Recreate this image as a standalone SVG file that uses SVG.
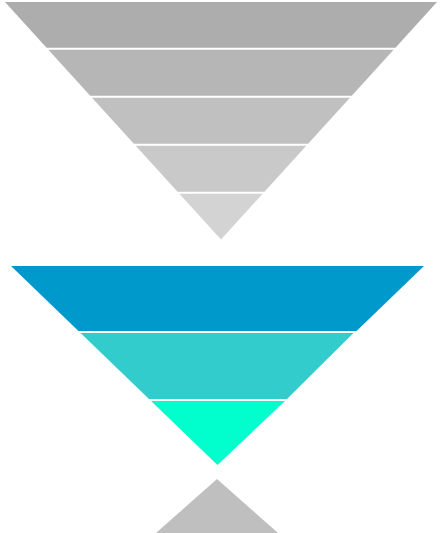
<svg xmlns="http://www.w3.org/2000/svg" width="443" height="533" viewBox="0 0 443 533">
<style>
.band{stroke:none}
</style>
<rect width="443" height="533" fill="#ffffff"/>
<g id="funnel-top">
<polygon id="t1" class="band" fill="#adadad" points="5,2 437,2 395.44,47.7 46.56,47.7"/>
<polygon id="t2" class="band" fill="#b6b6b6" points="48.38,49.7 393.62,49.7 351.78,95.7 90.22,95.7"/>
<polygon id="t3" class="band" fill="#c0c0c0" points="92.04,97.7 349.96,97.7 308.12,143.7 133.88,143.7"/>
<polygon id="t4" class="band" fill="#c9c9c9" points="135.7,145.7 306.3,145.7 264.47,191.7 177.53,191.7"/>
<polygon id="t5" class="band" fill="#d3d3d3" points="179.35,193.7 262.65,193.7 221,239.5"/>
</g>
<g id="funnel-bottom">
<polygon id="b1" class="band" fill="#0099cc" points="11,266 424,266 356.55,331 78.45,331"/>
<polygon id="b2" class="band" fill="#33cccc" points="80.53,333 353.47,333 286.99,399 149.01,399"/>
<polygon id="b3" class="band" fill="#00ffcc" points="151.09,401 284.91,401 217.5,465"/>
</g>
<g id="base-triangle">
<polygon class="band" fill="#bfbfbf" points="217,479 278,533 156,533"/>
</g>
<g id="connectors"/>
</svg>
